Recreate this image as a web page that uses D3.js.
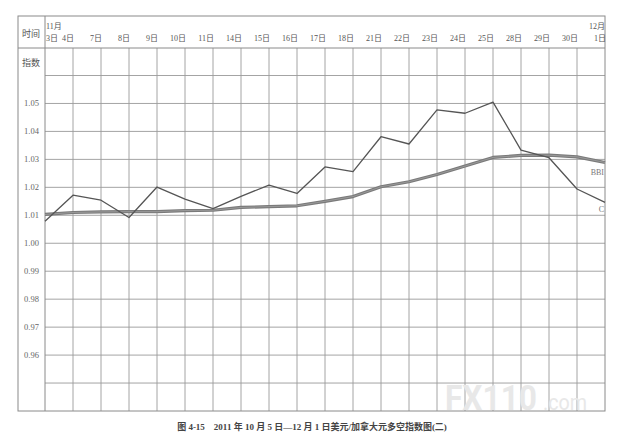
<!DOCTYPE html>
<html>
<head>
<meta charset="utf-8">
<script src="https://cdn.jsdelivr.net/npm/d3@7"></script>
<style>
  body { margin: 0; background: #fff; }
  svg { display: block; }
  text { font-family: "Liberation Serif", "Noto Sans CJK SC", serif; fill: #555; }
</style>
</head>
<body>
<svg id="chart" width="621" height="446"></svg>
<script>
// trading days, 11月3日 .. 12月1日
const dates = ['3日', '4日', '7日', '8日', '9日', '10日', '11日', '14日', '15日', '16日', '17日',
  '18日', '21日', '22日', '23日', '24日', '25日', '28日', '29日', '30日', '1日'];
const monthLabels = ['11月', '12月'];

// C = price index (thin), BBI = bull/bear index (thick)
const priceC = [1.0079, 1.0172, 1.0154, 1.0092, 1.0201, 1.0158, 1.0124, 1.0168, 1.0208, 1.0178, 1.0273,
  1.0256, 1.0381, 1.0355, 1.0477, 1.0465, 1.0505, 1.0333, 1.0306, 1.0194, 1.0146];
const bbi = [1.0103, 1.0110, 1.0112, 1.0113, 1.0113, 1.0117, 1.0118, 1.0128, 1.0131, 1.0134, 1.0150,
  1.0167, 1.0202, 1.0220, 1.0246, 1.0276, 1.0307, 1.0314, 1.0315, 1.0309, 1.0289];

const gridTicks = [0.95, 0.96, 0.97, 0.98, 0.99, 1.00, 1.01, 1.02, 1.03, 1.04, 1.05, 1.06];
const labelTicks = [0.96, 0.97, 0.98, 0.99, 1.00, 1.01, 1.02, 1.03, 1.04, 1.05];

const caption = '图 4-15　2011 年 10 月 5 日—12 月 1 日美元/加拿大元多空指数图(二)';

const frame = { left: 18, top: 16, right: 605, bottom: 411, header: 48, plotLeft: 45 };

const svg = d3.select('#chart');

const x = d3.scalePoint().domain(dates).range([frame.plotLeft, frame.right]);
const y = d3.scaleLinear().domain([0.94, 1.06]).range([frame.bottom, 75.5]);

const gridColor = '#9a9a9a';

// vertical grid lines
svg.append('g')
  .selectAll('line')
  .data(dates.slice(1, -1))
  .enter()
  .append('line')
  .attr('x1', (d) => x(d)).attr('x2', (d) => x(d))
  .attr('y1', frame.header).attr('y2', frame.bottom)
  .attr('stroke', gridColor).attr('stroke-width', 0.9);

// horizontal grid lines
svg.append('g')
  .selectAll('line')
  .data(gridTicks)
  .enter()
  .append('line')
  .attr('x1', frame.plotLeft).attr('x2', frame.right)
  .attr('y1', (d) => y(d)).attr('y2', (d) => y(d))
  .attr('stroke', gridColor).attr('stroke-width', 0.9);

// frame
const fr = svg.append('g').attr('stroke', '#8a8a8a').attr('stroke-width', 1).attr('fill', 'none');
fr.append('rect')
  .attr('x', frame.left).attr('y', frame.top)
  .attr('width', frame.right - frame.left).attr('height', frame.bottom - frame.top);
fr.append('line')
  .attr('x1', frame.left).attr('x2', frame.right)
  .attr('y1', frame.header).attr('y2', frame.header);
fr.append('line')
  .attr('x1', frame.plotLeft).attr('x2', frame.plotLeft)
  .attr('y1', frame.top).attr('y2', frame.bottom);

// watermark, squeezed horizontally to fit its box
function watermark(str, left, width, size, weight) {
  const g = svg.append('g');
  const t = g.append('text')
    .style('font-family', 'Roboto, sans-serif')
    .style('font-weight', weight)
    .style('font-size', size + 'px')
    .style('fill', '#e8e8e8')
    .text(str);
  const k = width / t.node().getComputedTextLength();
  g.attr('transform', `translate(${left}, 410) scale(${k}, 1)`);
}
watermark('FX110', 445, 92, 36, 'bold');
watermark('.com', 543, 44, 22, 'normal');

// header labels
svg.append('text').attr('x', 31).attr('y', 37).attr('text-anchor', 'middle')
  .style('font-size', '9px').text('时间');
svg.append('text').attr('x', 31).attr('y', 66).attr('text-anchor', 'middle')
  .style('font-size', '9px').text('指数');

svg.append('text').attr('x', frame.plotLeft + 1).attr('y', 29)
  .style('font-size', '8px').text(monthLabels[0]);
svg.append('text').attr('x', frame.right).attr('y', 29).attr('text-anchor', 'end')
  .style('font-size', '8px').text(monthLabels[1]);

svg.append('g')
  .selectAll('text')
  .data(dates)
  .enter()
  .append('text')
  .attr('x', (d, i) => x(d) + 1)
  .attr('y', 41)
  .attr('text-anchor', (d, i) => i == 0 ? 'start' : 'end')
  .style('font-size', '8px')
  .text((d) => d);

// y labels
svg.append('g')
  .selectAll('text')
  .data(labelTicks)
  .enter()
  .append('text')
  .attr('x', 24)
  .attr('y', (d) => y(d) + 3)
  .style('font-size', '8.5px')
  .style('fill', '#666')
  .text((d) => d.toFixed(2));

// series
const line = d3.line()
  .x((d, i) => x(dates[i]))
  .y((d) => y(d));

svg.append('path')
  .datum(bbi)
  .attr('d', line)
  .attr('fill', 'none')
  .attr('stroke', '#7a7a7a')
  .attr('stroke-width', 3.2)
  .attr('stroke-linejoin', 'round');
svg.append('path')
  .datum(bbi)
  .attr('d', line)
  .attr('fill', 'none')
  .attr('stroke', '#999')
  .attr('stroke-width', 1)
  .attr('stroke-linejoin', 'round');

svg.append('path')
  .datum(priceC)
  .attr('d', line)
  .attr('fill', 'none')
  .attr('stroke', '#555')
  .attr('stroke-width', 1.3)
  .attr('stroke-linejoin', 'round');

// series labels
svg.append('text').attr('x', 604).attr('y', 175).attr('text-anchor', 'end')
  .style('font-size', '8px').style('fill', '#777').text('BBI');
svg.append('text').attr('x', 604).attr('y', 212).attr('text-anchor', 'end')
  .style('font-size', '8px').style('fill', '#777').text('C');

// caption
svg.append('text')
  .attr('x', 312).attr('y', 430)
  .attr('text-anchor', 'middle')
  .style('font-size', '9px')
  .style('font-weight', 'bold')
  .style('fill', '#444')
  .text(caption);
</script>
</body>
</html>
